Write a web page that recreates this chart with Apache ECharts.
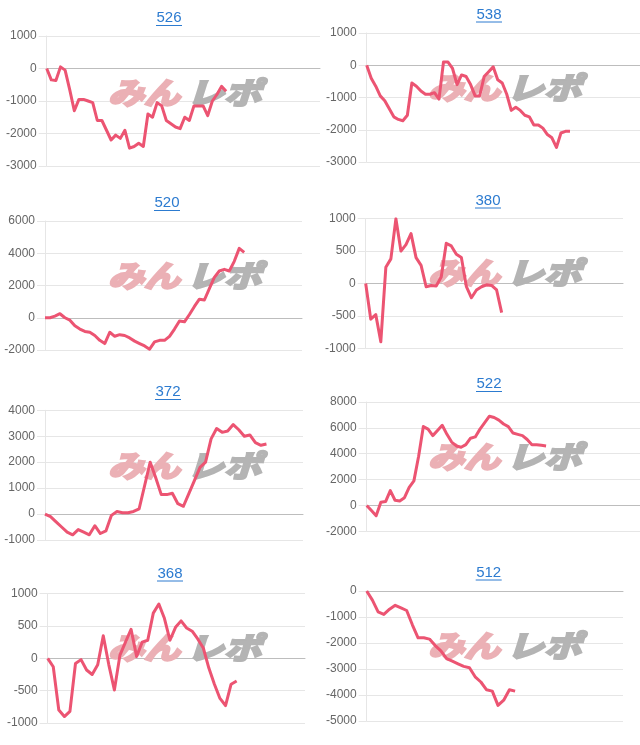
<!DOCTYPE html>
<html><head><meta charset="utf-8">
<script src="https://cdn.jsdelivr.net/npm/echarts@6/dist/echarts.min.js"></script>
<style>html,body{margin:0;padding:0;background:#fff}#c{width:640px;height:745px}</style>
</head><body><div id="c"></div>
<script>
// ---- data ----
const titles = ['526','538','520','380','372','522','368','512'];
const s526 = [0,-350,-370,50,-50,-650,-1300,-950,-950,-1000,-1050,-1600,-1600,-1900,-2200,-2050,-2150,-1900,-2450,-2400,-2300,-2400,-1400,-1500,-1050,-1150,-1600,-1700,-1800,-1850,-1500,-1600,-1150,-1150,-1150,-1450,-1000,-800,-550,-700];
const s538 = [0,-400,-650,-950,-1100,-1350,-1600,-1680,-1720,-1550,-550,-650,-800,-900,-900,-850,-1050,100,100,-100,-600,-300,-350,-600,-950,-950,-350,-200,-50,-450,-550,-900,-1400,-1300,-1400,-1550,-1600,-1850,-1850,-1950,-2150,-2250,-2550,-2100,-2050,-2050];
const s520 = [0,0,100,250,0,-150,-500,-700,-850,-900,-1100,-1400,-1600,-900,-1150,-1050,-1100,-1250,-1450,-1600,-1750,-1950,-1500,-1400,-1400,-1150,-700,-200,-250,200,700,1150,1100,1800,2500,2900,3000,2900,3500,4300,4050];
const s380 = [0,-550,-480,-900,250,380,1000,500,600,770,400,280,-50,-30,-40,100,620,580,450,400,-50,-220,-100,-50,-20,-30,-100,-450];
const s372 = [0,-100,-300,-500,-700,-800,-600,-700,-800,-450,-750,-650,-50,100,50,50,100,200,1100,2000,1400,750,750,800,400,300,800,1300,1800,2000,2900,3300,3150,3200,3450,3250,3000,3050,2750,2650,2700];
const s522 = [0,-400,-800,250,300,1150,400,350,600,1400,1900,3800,6100,5900,5400,5800,6200,5500,4900,4600,4500,4700,5200,5300,5900,6400,6900,6800,6600,6300,6100,5600,5500,5400,5100,4700,4700,4650,4600];
const s368 = [0,-130,-800,-900,-820,-80,-20,-180,-250,-100,350,-100,-490,50,250,450,30,250,280,700,840,620,280,480,580,470,420,300,160,-150,-400,-620,-730,-400,-350];
const s512 = [0,-350,-800,-900,-700,-550,-650,-750,-1300,-1800,-1800,-1850,-2100,-2300,-2600,-2700,-2800,-2900,-2950,-3300,-3500,-3800,-3850,-4400,-4200,-3800,-3850];
const seriesData = [s526,s538,s520,s380,s372,s522,s368,s512];
// y-axis ticks: min, max, step
const yMins = [-3000,-3000,-2000,-1000,-1000,-2000,-1000,-5000];
const yMaxs = [1000,1000,6000,1000,4000,8000,1000,0];
const ySteps = [1000,1000,2000,500,1000,2000,500,1000];

// ---- layout ----
const grids = [
  {left:46.7,top:36,width:273.3,height:130},
  {left:366.7,top:33,width:273.3,height:129},
  {left:45,top:221,width:257,height:129},
  {left:365.7,top:218.7,width:257.3,height:129.6},
  {left:45,top:410.3,width:258,height:129.7},
  {left:366.7,top:402,width:273.3,height:129.3},
  {left:47.7,top:593.7,width:257.3,height:129.3},
  {left:366.7,top:591,width:256.3,height:130}
];
const xSpans = [59.4,60.5,51.6,51.1,46.6,57.9,46.3,44.9];
const titlePos = [[169,18],[489,14.5],[167,203],[488,200.5],[168,392],[489,384],[170,573.5],[488.7,572.5]];
const wmY = [93,88,276,273,466,457,648,646];

const LINE = '#ec5472', GRID = '#e6e6e6';
const opt = {animation:false, grid:[], xAxis:[], yAxis:[], series:[], graphic:[]};
titles.forEach((t,i)=>{
  const g = grids[i];
  opt.grid.push({left:g.left, top:g.top, width:g.width, height:g.height, containLabel:false});
  opt.xAxis.push({type:'value', gridIndex:i, min:0, max:xSpans[i],
    axisLine:{show:true, onZero:true, lineStyle:{color:'#bdbdbd', width:1}},
    axisTick:{show:false}, axisLabel:{show:false}, splitLine:{show:false}});
  opt.yAxis.push({type:'value', gridIndex:i, min:yMins[i], max:yMaxs[i], interval:ySteps[i],
    axisLine:{show:true, lineStyle:{color:GRID}},
    axisTick:{show:true, length:8, lineStyle:{color:GRID}},
    axisLabel:{color:'#666', fontSize:12, margin:10, fontFamily:'Liberation Sans, Arial, sans-serif',
      formatter:v=>String(v)},
    splitLine:{show:true, lineStyle:{color:GRID, width:1}}});
  opt.series.push({type:'line', xAxisIndex:i, yAxisIndex:i, symbol:'none', z:5,
    data: seriesData[i].map((v,k)=>[k,v]),
    lineStyle:{color:LINE, width:3, join:'round'}});
  const ox = i%2 ? 320 : 0;
  // watermark
  opt.graphic.push({type:'text', x:ox+144, y:wmY[i], scaleX:1.2, z:1, silent:true,
    style:{text:'みん', font:'italic bold 30px "Noto Sans CJK JP"', fill:'#ebb0b5', stroke:'#ebb0b5', lineWidth:2.5, textAlign:'center', textVerticalAlign:'middle'}});
  opt.graphic.push({type:'text', x:ox+224, y:wmY[i], scaleX:1.25, z:1, silent:true,
    style:{text:'レポ', font:'italic bold 30px "Noto Sans CJK JP"', fill:'#b4b4b4', stroke:'#b4b4b4', lineWidth:2.5, textAlign:'center', textVerticalAlign:'middle'}});
  // title
  const [tx,ty] = titlePos[i];
  opt.graphic.push({type:'text', x:tx, y:ty, z:10,
    style:{text:t, font:'15px "Liberation Sans", Arial, sans-serif', fill:'#2c7bd0', textAlign:'center', textVerticalAlign:'middle'}});
  opt.graphic.push({type:'line', z:10, shape:{x1:tx-13, y1:ty+7.5, x2:tx+13, y2:ty+7.5},
    style:{stroke:'#2c7bd0', lineWidth:1}});
});
const chart = echarts.init(document.getElementById('c'), null, {renderer:'canvas'});
chart.setOption(opt);
</script></body></html>
